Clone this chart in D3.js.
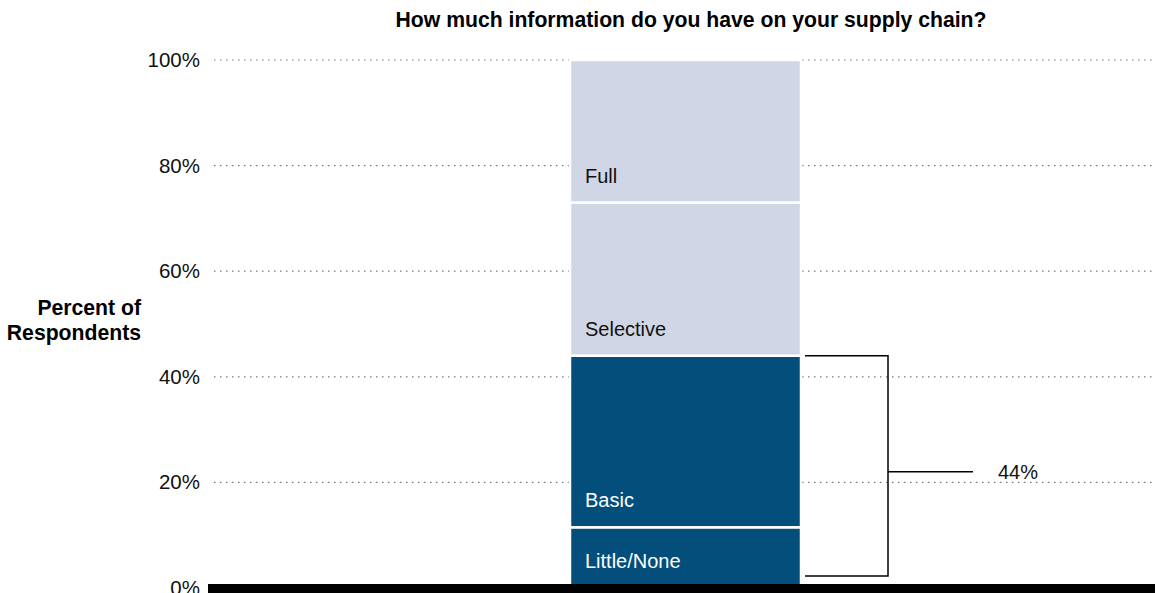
<!DOCTYPE html>
<html>
<head>
<meta charset="utf-8">
<script src="https://cdn.jsdelivr.net/npm/d3@7"></script>
<style>
  html, body { margin: 0; padding: 0; background: #fff; }
  svg { display: block; font-family: "Liberation Sans", Arial, sans-serif; }
</style>
</head>
<body>
<svg id="chart" width="1155" height="593"></svg>
<script>
// ---- data ----
const title = "How much information do you have on your supply chain?";
const yAxisTitle = ["Percent of", "Respondents"];
const categories = ["Supply chain information"];
const segmentNames = ["Little/None", "Basic", "Selective", "Full"];
const segmentValues = [11.5, 32.5, 29, 27];
const segmentColors = ["#034e7b", "#034e7b", "#d0d6e6", "#d0d6e6"];
const segmentTextColors = ["#ffffff", "#ffffff", "#111111", "#111111"];
const yTicks = [0, 20, 40, 60, 80, 100];
const yTickLabels = ["0%", "20%", "40%", "60%", "80%", "100%"];
const bracketRange = [0, 44];
const bracketLabel = "44%";

(function () {
// ---- layout ----
const svg = d3.select("#chart");
const plotLeft = 208, plotRight = 1163, plotTop = 60, plotBottom = 588;

const y = d3.scaleLinear().domain([0, 100]).range([plotBottom, plotTop]);
const x = d3.scaleBand().domain(categories).range([plotLeft, plotRight])
  .paddingInner(0).paddingOuter(1.567);

// title
svg.append("text")
  .attr("x", 691).attr("y", 27)
  .attr("text-anchor", "middle")
  .attr("font-size", 21.2).attr("font-weight", "bold").attr("fill", "#000")
  .text(title);

// y-axis title
const yt = svg.append("text")
  .attr("text-anchor", "end")
  .attr("font-size", 21.2).attr("font-weight", "bold").attr("fill", "#000");
yAxisTitle.forEach((t, i) => {
  yt.append("tspan").attr("x", 141).attr("y", 315 + i * 25).text(t);
});

// gridlines
svg.append("g").selectAll("line")
  .data(yTicks.filter(d => d > 0))
  .join("line")
  .attr("x1", 214).attr("x2", 1152)
  .attr("y1", d => y(d)).attr("y2", d => y(d))
  .attr("stroke", "#7a7a7a").attr("stroke-width", 1.2)
  .attr("stroke-dasharray", "1.5,4.5");

// y axis tick labels
const yAxis = d3.axisLeft(y).tickValues(yTicks)
  .tickFormat((d, i) => yTickLabels[i]).tickSize(0).tickPadding(0);
const gy = svg.append("g").attr("transform", "translate(200,0)").call(yAxis);
gy.select(".domain").remove();
gy.selectAll("text")
  .attr("font-size", 20.5).attr("fill", "#111")
  .attr("font-family", "Liberation Sans, Arial, sans-serif");

// stacked segments
let acc = 0;
const segs = segmentValues.map((v, i) => {
  const s = { name: segmentNames[i], y0: acc, y1: acc + v, i };
  acc += v;
  return s;
});
const bx = x(categories[0]), bw = x.bandwidth();
svg.append("g").selectAll("rect")
  .data(segs).join("rect")
  .attr("x", bx).attr("width", bw)
  .attr("y", d => y(d.y1)).attr("height", d => y(d.y0) - y(d.y1))
  .attr("fill", d => segmentColors[d.i])
  .attr("stroke", "#fff").attr("stroke-width", 2.5);

svg.append("g").selectAll("text")
  .data(segs).join("text")
  .attr("x", bx + 15).attr("y", d => y(d.y0) - 20)
  .attr("font-size", 20)
  .attr("fill", d => segmentTextColors[d.i])
  .text(d => d.name);

// baseline
svg.append("line")
  .attr("x1", plotLeft).attr("x2", 1155)
  .attr("y1", y(0) + 1).attr("y2", y(0) + 1)
  .attr("stroke", "#000").attr("stroke-width", 10);

// bracket
const bL = bx + bw + 4, bR = bL + 83;
const bTop = y(bracketRange[1]), bBot = y(bracketRange[0]) - 12;
const bMid = y((bracketRange[0] + bracketRange[1]) / 2);
svg.append("path")
  .attr("d", `M${bL},${bTop}H${bR}V${bBot}H${bL}M${bR},${bMid}H${bR + 85}`)
  .attr("fill", "none").attr("stroke", "#000").attr("stroke-width", 1.5);
svg.append("text")
  .attr("x", 998).attr("y", bMid).attr("dy", "0.35em")
  .attr("font-size", 20).attr("fill", "#111")
  .text(bracketLabel);
})();
</script>
</body>
</html>
